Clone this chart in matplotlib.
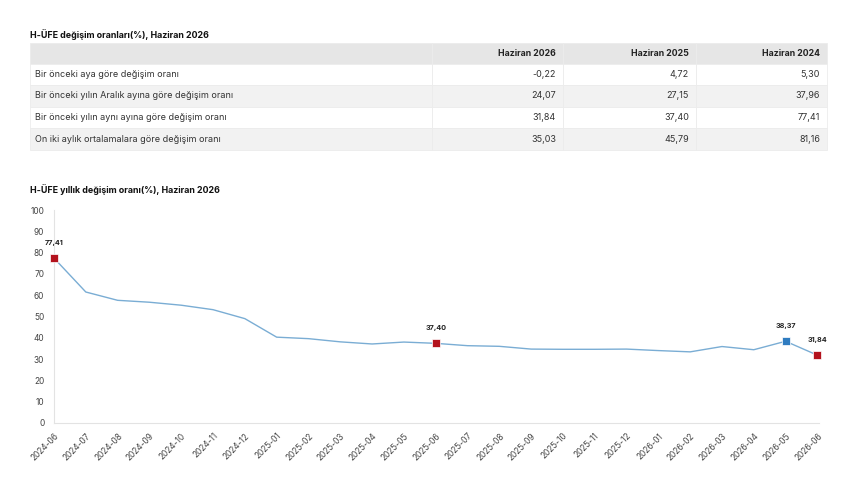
import matplotlib.pyplot as plt
from matplotlib.patches import Rectangle

plt.rcParams['font.family'] = ['Inter', 'DejaVu Sans']

# table data
table_title = 'H-ÜFE değişim oranları(%), Haziran 2026'
col_headers = ['Haziran 2026', 'Haziran 2025', 'Haziran 2024']
row_labels = ['Bir önceki aya göre değişim oranı',
              'Bir önceki yılın Aralık ayına göre değişim oranı',
              'Bir önceki yılın aynı ayına göre değişim oranı',
              'On iki aylık ortalamalara göre değişim oranı']
table_values = [['-0,22', '4,72', '5,30'],
                ['24,07', '27,15', '37,96'],
                ['31,84', '37,40', '77,41'],
                ['35,03', '45,79', '81,16']]

# line chart data
chart_title = 'H-ÜFE yıllık değişim oranı(%), Haziran 2026'
months = ['2024-06', '2024-07', '2024-08', '2024-09', '2024-10', '2024-11', '2024-12',
          '2025-01', '2025-02', '2025-03', '2025-04', '2025-05', '2025-06', '2025-07',
          '2025-08', '2025-09', '2025-10', '2025-11', '2025-12', '2026-01', '2026-02',
          '2026-03', '2026-04', '2026-05', '2026-06']
yearly = [77.41, 61.5, 57.6, 56.7, 55.3, 53.2, 49.0, 40.3, 39.6, 38.1, 37.1, 38.0, 37.40,
          36.3, 36.0, 34.7, 34.6, 34.6, 34.7, 34.0, 33.4, 35.9, 34.4, 38.37, 31.84]
red_months = ['2024-06', '2025-06', '2026-06']
blue_months = ['2026-05']

W, H = 860, 504
fig = plt.figure(figsize=(W / 100, H / 100), dpi=100)

# overlay axes in pixel coordinates for the table
tab = fig.add_axes([0, 0, 1, 1])
tab.set_xlim(0, W)
tab.set_ylim(H, 0)
tab.axis('off')

tab.text(30, 35, table_title, fontsize=6.4, fontweight='bold', va='center', color='#111')
col_edges = [30, 432, 563, 696, 827]
row_edges = [43, 64, 85, 107, 128, 150]
for r in range(5):
    if r == 0:
        bg = '#e6e6e6'
    elif r % 2 == 0:
        bg = '#f2f2f2'
    else:
        bg = 'white'
    for c in range(4):
        tab.add_patch(Rectangle((col_edges[c], row_edges[r]), col_edges[c + 1] - col_edges[c],
                                row_edges[r + 1] - row_edges[r], facecolor=bg,
                                edgecolor='#ececec', linewidth=0.6))
for c, h in enumerate(col_headers):
    tab.text(col_edges[c + 2] - 7, (row_edges[0] + row_edges[1]) / 2, h, fontsize=6.3,
             fontweight='bold', ha='right', va='center', color='#222')
for r, lab in enumerate(row_labels):
    yc = (row_edges[r + 1] + row_edges[r + 2]) / 2
    tab.text(col_edges[0] + 5, yc, lab, fontsize=6.5, va='center', color='#333')
    for c, v in enumerate(table_values[r]):
        tab.text(col_edges[c + 2] - 7, yc, v, fontsize=6.5, ha='right', va='center', color='#333')

tab.text(30, 190, chart_title, fontsize=6.4, fontweight='bold', va='center', color='#111')

# line chart
ax = fig.add_axes([54 / W, (H - 423) / H, (819 - 54) / W, (423 - 210) / H])
x = list(range(len(months)))
ax.plot(x, yearly, color='#7aadd4', linewidth=1.0, clip_on=False, zorder=2)
for xs, col in [(red_months, '#b3121d'), (blue_months, '#2f7cc0')]:
    idx = [months.index(m) for m in xs]
    ax.scatter(idx, [yearly[i] for i in idx], marker='s', s=36, color=col,
               edgecolors='white', linewidths=0.5, zorder=3, clip_on=False)
    for i in idx:
        ax.annotate(f'{yearly[i]:.2f}'.replace('.', ','), (i, yearly[i]), xytext=(0, 9),
                    textcoords='offset points', ha='center', va='bottom',
                    fontsize=5.2, fontweight='bold', color='#222')

ax.set_xlim(0, 24.05)
ax.set_ylim(0, 100)
ax.set_yticks(range(0, 101, 10))
ax.set_xticks(x)
ax.set_xticklabels(months, rotation=45, ha='right', rotation_mode='anchor')
ax.tick_params(axis='both', length=0, labelsize=6.0, labelcolor='#444')
ax.tick_params(axis='x', pad=6)
ax.tick_params(axis='y', pad=7)
for s in ['top', 'right']:
    ax.spines[s].set_visible(False)
for s in ['left', 'bottom']:
    ax.spines[s].set_color('#e3e3e3')
    ax.spines[s].set_linewidth(0.8)

fig.savefig('out.png', dpi=100)
